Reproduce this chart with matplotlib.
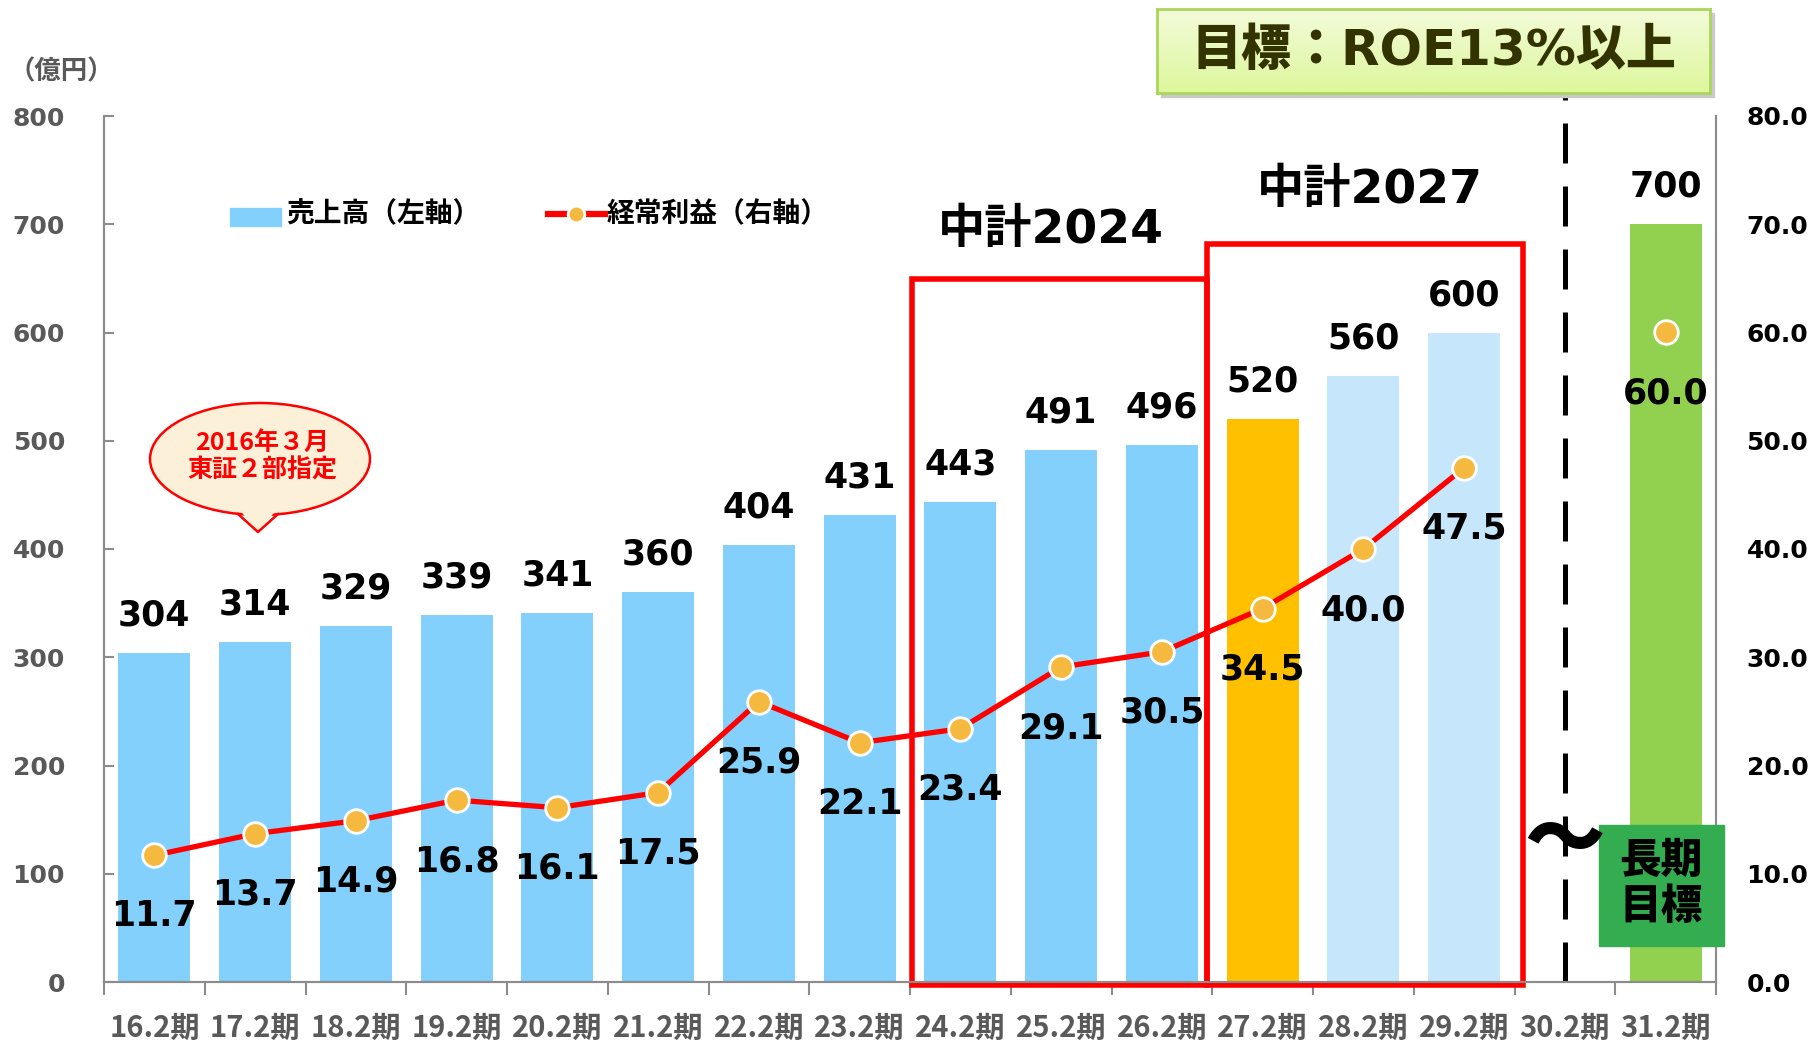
import numpy as np
import matplotlib.pyplot as plt
from matplotlib.patches import Rectangle, Ellipse, Polygon
from matplotlib.lines import Line2D
from matplotlib.colors import LinearSegmentedColormap

plt.rcParams['font.family'] = ['DejaVu Sans', 'Noto Sans CJK JP']
plt.rcParams['font.weight'] = 'bold'

# データ
periods = ["16.2期", "17.2期", "18.2期", "19.2期", "20.2期", "21.2期", "22.2期", "23.2期",
           "24.2期", "25.2期", "26.2期", "27.2期", "28.2期", "29.2期", "30.2期", "31.2期"]
sales = [304, 314, 329, 339, 341, 360, 404, 431, 443, 491, 496, 520, 560, 600, None, 700]
profit = [11.7, 13.7, 14.9, 16.8, 16.1, 17.5, 25.9, 22.1, 23.4, 29.1, 30.5, 34.5, 40.0, 47.5, None, 60.0]
left_ticks = [0, 100, 200, 300, 400, 500, 600, 700, 800]
right_ticks = [0, 10, 20, 30, 40, 50, 60, 70, 80]

bar_colors = ["#83D0FC"] * 11 + ["#FFC000", "#C6E7FB", "#C6E7FB", "#FFFFFF", "#92D050"]
GRAY = "#595959"
JP = ['Noto Sans CJK JP']

W, H = 1814, 1040
fig = plt.figure(figsize=(W / 100, H / 100), dpi=100)


def fx(px):
    return px / W


def fy(py):
    return 1 - py / H


ax = fig.add_axes([fx(104), fy(982), fx(1716) - fx(104), fy(116) - fy(982)])
ax2 = ax.twinx()

x = np.arange(len(periods))

# 売上高
for i, v in enumerate(sales):
    if v is None:
        continue
    ax.bar(i, v, width=0.715, color=bar_colors[i], zorder=2)
    ax.annotate(str(v), (i, v), xytext=(0, 27), textcoords='offset points',
                ha='center', va='center', fontsize=25, color='black')

ax.set_xlim(-0.5, len(periods) - 0.5)
ax.set_ylim(0, 800)
ax.set_yticks(left_ticks)
ax.set_yticklabels([str(t) for t in left_ticks], fontsize=18, color=GRAY)
ax.set_xticks(x)
ax.set_xticklabels(periods, fontsize=21, color=GRAY, family=JP)
ax.set_xticks(np.arange(-0.5, len(periods), 1), minor=True)
ax.tick_params(axis='x', which='major', length=0, pad=22)
ax.tick_params(axis='x', which='minor', length=9, width=1.5, color='#8C8C8C', direction='out')
ax.tick_params(axis='y', length=7, width=1.5, color='#8C8C8C', direction='in', pad=28)
ax.spines['top'].set_visible(False)
ax2.spines['top'].set_visible(False)
for s in ['left', 'right', 'bottom']:
    ax.spines[s].set_color('#8C8C8C')
    ax.spines[s].set_linewidth(1.5)
    ax2.spines[s].set_color('#8C8C8C')
    ax2.spines[s].set_linewidth(1.5)

# 中計の枠
ax.add_patch(Rectangle((7.52, -3), 2.93, 652, fill=False, edgecolor='#FF0000', lw=4, clip_on=False, zorder=3))
ax.add_patch(Rectangle((10.45, -3), 3.13, 685, fill=False, edgecolor='#FF0000', lw=4, clip_on=False, zorder=3))
ax.text(8.9, 694, "中計2024", ha='center', va='center', fontsize=34, color='black')
ax.text(12.06, 731, "中計2027", ha='center', va='center', fontsize=34, color='black')

# 破線
ax.plot([14, 14], [0, 899], color='black', lw=3.6, dashes=(8, 4.6), clip_on=False, zorder=3)

# 経常利益
pv = np.array([np.nan if p is None else p for p in profit])
ax2.plot(x, pv, color='#FF0000', lw=3.8, zorder=4, marker='o', markersize=17,
         markerfacecolor='#F5B93F', markeredgecolor='white', markeredgewidth=2)
for i, p in enumerate(profit):
    if p is None:
        continue
    ax2.annotate(f"{p:.1f}", (i, p), xytext=(0, -44), textcoords='offset points',
                 ha='center', va='center', fontsize=25, color='black', zorder=5)
ax2.set_ylim(0, 80)
ax2.set_yticks(right_ticks)
ax2.set_yticklabels([f"{t:.1f}" for t in right_ticks], fontsize=18, color='black')
ax2.tick_params(axis='y', length=0, pad=22)

# 単位
fig.text(fx(8), fy(72), "（億円）", ha='left', va='center', fontsize=19, color=GRAY, family=JP)

# 凡例
fig.patches.append(Rectangle((fx(230), fy(226)), fx(281) - fx(230), fy(208) - fy(226),
                             transform=fig.transFigure, color='#83D0FC', zorder=5))
fig.text(fx(286), fy(214), "売上高（左軸）", ha='left', va='center', fontsize=20, color='black', family=JP)
fig.add_artist(Line2D([fx(548), fx(605)], [fy(214), fy(214)], transform=fig.transFigure,
                      color='#FF0000', lw=4.5, zorder=5))
fig.add_artist(Line2D([fx(576)], [fy(214)], transform=fig.transFigure, marker='o', markersize=12,
                      markerfacecolor='#F5B93F', markeredgecolor='white', markeredgewidth=2, zorder=6))
fig.text(fx(607), fy(214), "経常利益（右軸）", ha='left', va='center', fontsize=20, color='black', family=JP)

# 吹き出し
fig.patches.append(Ellipse((fx(260), fy(459)), fx(220), 112 / H, transform=fig.transFigure,
                           facecolor='#FDF0D9', edgecolor='#FF0000', lw=1.8, zorder=5))
fig.patches.append(Polygon([(fx(238), fy(508)), (fx(258), fy(532)), (fx(278), fy(508))],
                           closed=True, transform=fig.transFigure, facecolor='#FDF0D9',
                           edgecolor='none', zorder=6))
fig.add_artist(Line2D([fx(238), fx(258), fx(278)], [fy(514), fy(532), fy(514)],
                      transform=fig.transFigure, color='#FF0000', lw=1.8, zorder=7))
fig.text(fx(262), fy(457), "2016年３月\n東証２部指定", ha='center', va='center', fontsize=18,
         color='#FF0000', family=JP, linespacing=1.2, zorder=8)

# 目標ROE
fig.patches.append(Rectangle((fx(1161), fy(97)), fx(553), 84 / H, transform=fig.transFigure,
                             color='#C9C9C9', zorder=0.5))
roe_ax = fig.add_axes([fx(1157), fy(93), fx(553), 84 / H], zorder=1)
grad = np.linspace(0, 1, 60).reshape(-1, 1)
cmap = LinearSegmentedColormap.from_list('roe', ['#F3FBDA', '#DDF79C'])
roe_ax.imshow(grad, aspect='auto', cmap=cmap, extent=[0, 1, 0, 1], origin='upper')
roe_ax.set_xticks([])
roe_ax.set_yticks([])
for s in roe_ax.spines.values():
    s.set_color('#A9D65B')
    s.set_linewidth(2)
roe_ax.text(0.5, 0.5, "目標：ROE13%以上", ha='center', va='center', fontsize=36,
            color='#333300', transform=roe_ax.transAxes, fontweight='heavy')

# 長期目標
fig.patches.append(Rectangle((fx(1599), fy(946)), fx(125), 121 / H, transform=fig.transFigure,
                             color='#33AD50', zorder=5))
fig.text(fx(1661), fy(884), "長期\n目標", ha='center', va='center', fontsize=30, color='black',
         family=JP, fontweight='heavy', linespacing=1.15, zorder=6)
fig.text(fx(1564), fy(842), "～", ha='center', va='center', fontsize=58, color='black',
         family=JP, fontweight='heavy', zorder=6)

fig.savefig("out.png", dpi=100)
